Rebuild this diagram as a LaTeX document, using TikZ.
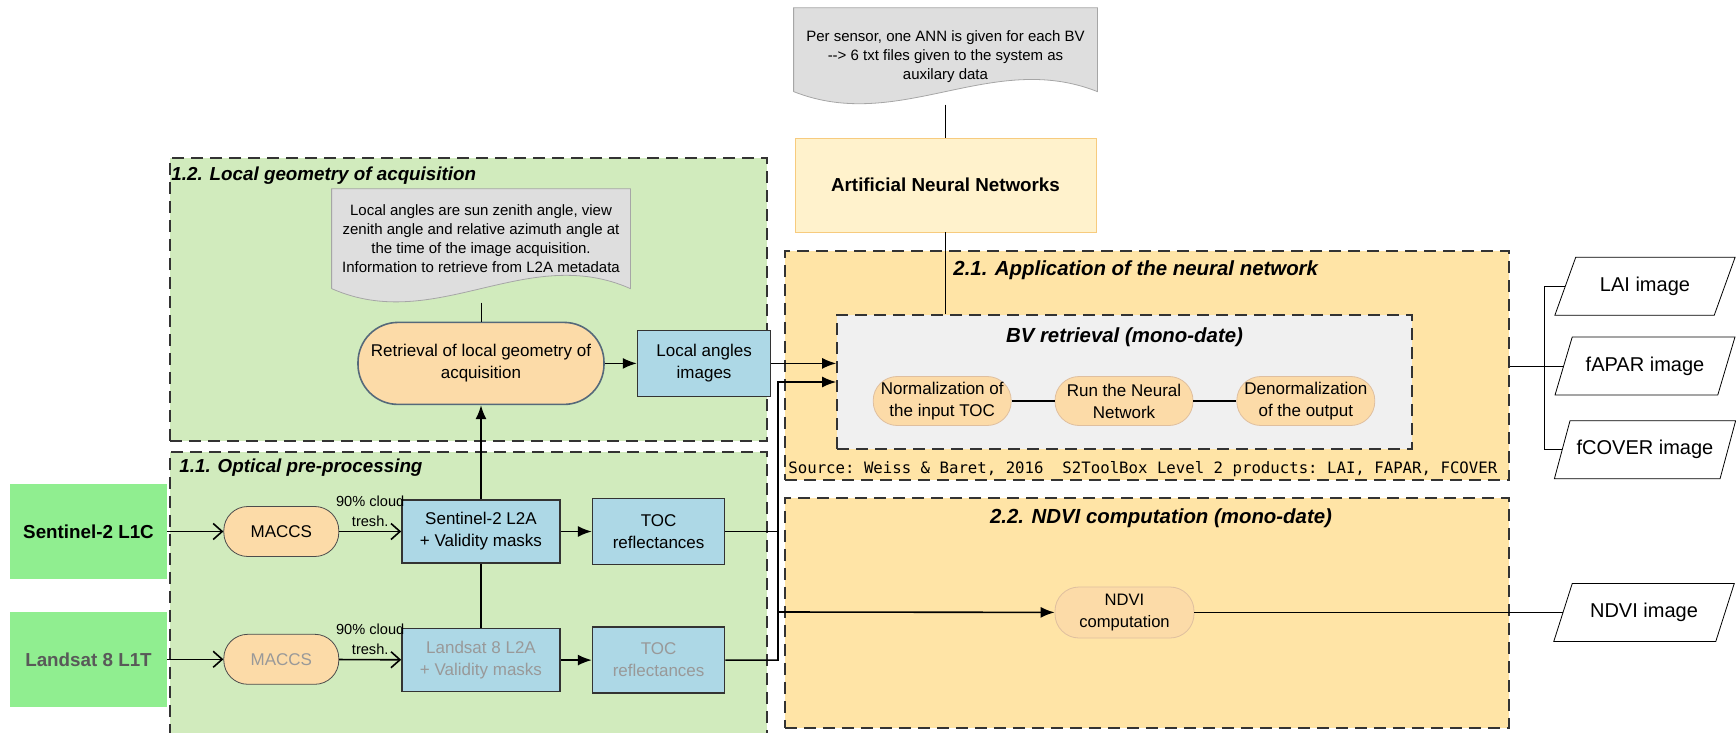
\documentclass[tikz,border=0pt]{standalone}
\usepackage{fontspec}
\setmainfont{Liberation Sans}
\setmonofont{DejaVu Sans Mono}
\usepackage{xcolor}
\definecolor{grp-green}{HTML}{D1EBBD}
\definecolor{grp-orange}{HTML}{FFE4A6}
\definecolor{peach}{HTML}{FCDBA8}
\definecolor{pale-blue}{HTML}{ADD8E6}
\definecolor{src-green}{HTML}{90EE90}
\definecolor{ann-yellow}{HTML}{FFF2CC}
\definecolor{ann-border}{HTML}{F7CB7E}
\definecolor{note-gray}{HTML}{DEDEDE}
\definecolor{bv-gray}{HTML}{F0F0F0}
\definecolor{slate}{HTML}{55697A}
\usepackage{tikz}
\usetikzlibrary{positioning}
\usetikzlibrary{calc}
\usetikzlibrary{shapes.geometric}
\usetikzlibrary{arrows.meta}
\pgfdeclarelayer{groups}
\pgfdeclarelayer{notes}
\pgfsetlayers{groups,notes,main}
\tikzset{grp/.style = {draw=black!80, dash pattern=on 6pt off 3.5pt, line width=0.8pt, inner sep=0pt}}
\tikzset{grptitle/.style = {font=\fontsize{9.4}{11}\selectfont\bfseries\itshape, inner sep=0pt}}
\tikzset{bigtitle/.style = {font=\fontsize{10.2}{12}\selectfont\bfseries\itshape, inner sep=0pt}}
\tikzset{srcbox/.style = {fill=src-green, minimum width=78.5pt, minimum height=47.5pt, font=\fontsize{9.4}{11}\selectfont\bfseries}}
\tikzset{pill/.style = {draw=black!70, rounded corners=12pt, fill=peach, align=center, inner sep=1pt}}
\tikzset{box/.style = {draw=black!80, line width=0.8pt, fill=pale-blue, align=center, inner sep=1pt, minimum width=79pt, minimum height=31.5pt}}
\tikzset{notetext/.style = {align=center, inner sep=0pt, font=\fontsize{7.5}{9.5}\selectfont}}
\tikzset{notebg/.style = {draw=black!35, fill=note-gray}}
\tikzset{imgbox/.style = {draw, trapezium, trapezium left angle=64, trapezium right angle=116, trapezium stretches=true, minimum width=90.5pt, minimum height=29pt, font=\fontsize{10}{12}\selectfont}}
\tikzset{arr/.style = {line width=0.8pt, -{Latex[length=7pt,width=5.5pt]}}}
\tikzset{openarr/.style = {line width=0.8pt, -{Straight Barb[length=4.5pt,width=8pt]}}}
\tikzset{link/.style = {line width=0.5pt}}
\tikzset{cloudlbl/.style = {align=center, inner sep=2pt, font=\fontsize{7.3}{10}\selectfont}}
\tikzset{faded/.style = {text=black!40}}

\begin{document}
\begin{tikzpicture}[x=0.5pt, y=-0.5pt,
  font=\fontsize{8.5}{11}\selectfont
]
\useasboundingbox (0,0) rectangle (1736,733);

% groups behind everything
\begin{pgfonlayer}{groups}
\node[grp, fill=grp-green, minimum width=298.5pt, minimum height=141.5pt, anchor=north west] (g12) at (169,157) {};
\node[grp, fill=grp-green, minimum width=298.5pt, minimum height=141pt, anchor=north west] (g11) at (169,451) {};
\node[grp, fill=grp-orange, minimum width=362pt, minimum height=114.5pt, anchor=north west] (g21) at (784,250) {};
\node[grp, fill=grp-orange, minimum width=362pt, minimum height=115pt, anchor=north west] (g22) at (784,497) {};
\end{pgfonlayer}

\node[grptitle, anchor=west] (t12) at (171,176) {1.2. Local geometry of acquisition};
\node[grptitle, anchor=west] (t11) at (179,468) {1.1. Optical pre-processing};
\node[bigtitle, anchor=west] (t21) at (953,270) {2.1. Application of the neural network};
\node[bigtitle] (t22) at (1161,518) {2.2. NDVI computation (mono-date)};

% 1.1 optical pre-processing
\node[srcbox] (s2) at (88.5,531.5) {Sentinel-2 L1C};
\node[srcbox, below=16pt of s2, text=black!65] (l8) {Landsat 8 L1T};
\node[pill, minimum width=57.5pt, minimum height=25pt, right=28pt of s2] (mac1) {MACCS};
\node[pill, minimum width=57.5pt, minimum height=25pt, right=28pt of l8, faded] (mac2) {MACCS};
\node[box, right=31pt of mac1] (s2a) {Sentinel-2 L2A\\+ Validity masks};
\node[box, below=32pt of s2a, faded] (l8a) {Landsat 8 L2A\\+ Validity masks};
\node[box, minimum width=66pt, minimum height=33pt, right=15.5pt of s2a] (toc1) {TOC\\reflectances};
\node[box, minimum width=66pt, minimum height=33pt, right=15.5pt of l8a, faded] (toc2) {TOC\\reflectances};

% 1.2 local geometry
\node[pill, draw=slate, line width=0.8pt, rounded corners=20pt, minimum width=123pt, minimum height=41pt, above=47pt of s2a] (retr) {Retrieval of local geometry of\\acquisition};
\node[box, minimum width=66.5pt, minimum height=33pt, right=16pt of retr] (angles) {Local angles\\images};
\node[notetext, minimum width=149pt, minimum height=49.5pt, above=16.5pt of retr] (note1) {Local angles are sun zenith angle, view\\zenith angle and relative azimuth angle at\\the time of the image acquisition.\\Information to retrieve from L2A metadata};

% neural network
\node[draw=ann-border, fill=ann-yellow, minimum width=150.5pt, minimum height=47pt, font=\fontsize{9.4}{11}\selectfont\bfseries] (ann) at (945.5,185) {Artificial Neural Networks};
\node[notetext, minimum width=151.5pt, minimum height=48pt, above=16.5pt of ann] (annnote) {Per sensor, one ANN is given for each BV\\-{}-{}> 6 txt files given to the system as\\auxilary data};

% 2.1 BV retrieval
\begin{pgfonlayer}{notes}
\node[grp, fill=bv-gray, minimum width=287.5pt, minimum height=67pt] (bv) at (1124.5,382) {};
\end{pgfonlayer}
\node[bigtitle] (tbv) at (1124.5,337) {BV retrieval (mono-date)};
\node[pill, draw=brown!50, fill=peach, minimum width=69pt, minimum height=24.5pt] (run) at (1124,401) {Run the Neural\\Network};
\node[pill, draw=brown!50, fill=peach, minimum width=69pt, minimum height=24.5pt, left=21.5pt of run] (norm) {Normalization of\\the input TOC};
\node[pill, draw=brown!50, fill=peach, minimum width=69pt, minimum height=24.5pt, right=21.5pt of run] (denorm) {Denormalization\\of the output};
\node[anchor=west, inner sep=0pt, font=\fontsize{7.85}{9}\selectfont\ttfamily] (src) at (788,469) {Source: Weiss \& Baret, 2016\ \ S2ToolBox Level 2 products: LAI, FAPAR, FCOVER};

% 2.2 NDVI
\node[pill, draw=brown!50, minimum width=69.5pt, minimum height=25.5pt, font=\fontsize{8.3}{11}\selectfont] (ndvi) at (1124.5,612.5) {NDVI\\computation};

% outputs
\node[imgbox] (fapar) at (1645,366) {fAPAR image};
\node[imgbox, above=10.5pt of fapar] (lai) {LAI image};
\node[imgbox, below=12.5pt of fapar] (fcover) {fCOVER image};
\node[imgbox] (ndviimg) at (1644,612.5) {NDVI image};

% document shapes of the notes
\begin{pgfonlayer}{notes}
\draw[notebg] (note1.south west) -- (note1.north west) -- (note1.north east) -- (note1.south east)
  .. controls +(-104,-46) and +(104,46) .. (note1.south west);
\draw[notebg] ($(annnote.south west)+(0,-13)$) -- (annnote.north west) -- (annnote.north east) -- ($(annnote.south east)+(0,-13)$)
  .. controls +(-106,-42) and +(106,42) .. ($(annnote.south west)+(0,-13)$);
\end{pgfonlayer}

\coordinate (bvin) at (778,382);
\coordinate (ndviin) at (778,612);
\coordinate (split) at (1544,366);

\draw[openarr] (s2) -- (mac1);
\draw[openarr] (mac1) -- (s2a) node[midway, above, cloudlbl]{90\% cloud\\tresh.};
\draw[openarr] (l8) -- (mac2);
\draw[openarr] (mac2) -- (l8a) node[midway, above, cloudlbl]{90\% cloud\\tresh.};
\draw[arr] (s2a) -- (toc1);
\draw[arr] (l8a) -- (toc2);
\draw[link, line width=0.8pt] (s2a) -- (l8a);
\draw[arr] (s2a) -- (retr);
\draw[link] ($(note1.south)+(0,14)$) -- (retr);
\draw[arr] (retr) -- (angles);
\draw[arr] (angles) -- (angles -| bv.west);
\draw[arr] (toc1) -| (bvin) -- (bvin -| bv.west);
\draw[link, line width=0.8pt] (toc1) -| (ndviin);
\draw[arr] (toc2) -| (ndviin) -- (ndvi);
\draw[link] (annnote) -- (ann);
\draw[link] (ann) -- (ann |- bv.north);
\draw[link, line width=0.8pt] (norm) -- (run);
\draw[link, line width=0.8pt] (run) -- (denorm);
\draw[link] (fapar.left side -| g21.east) -- (fapar.left side);
\draw[link] (lai.left side) -| (split) |- (fcover.left side);
\draw[link] (ndvi) -- (ndviimg.left side);

\end{tikzpicture}
\end{document}
